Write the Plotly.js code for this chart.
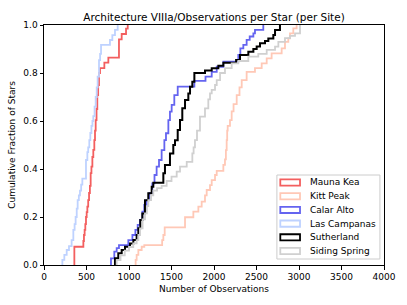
<!DOCTYPE html>
<html><head><meta charset="utf-8">
<script src="https://cdn.plot.ly/plotly-3.0.1.min.js"></script>
<style>html,body{margin:0;padding:0;background:#fff}#chart{width:407px;height:305px}</style>
</head><body><div id="chart"></div>
<script>
// Site names (legend order)
const siteNames = ["Mauna Kea", "Kitt Peak", "Calar Alto", "Las Campanas", "Sutherland", "Siding Spring"];
const siteColors = ["rgb(243,95,95)", "rgb(255,200,182)", "rgb(100,100,240)", "rgb(190,210,255)", "rgb(0,0,0)", "rgb(208,208,208)"];

// Step positions (number of observations) and cumulative fraction after each step
const maunaKeaX = [357, 463, 470, 478, 486, 494, 502, 510, 520, 530, 540, 549, 558, 569, 580, 592, 600, 608, 618, 627, 637, 647, 659, 710, 757, 882, 914, 965, 985];
const maunaKeaY = [0.076, 0.10, 0.125, 0.146, 0.17, 0.20, 0.22, 0.243, 0.27, 0.30, 0.33, 0.383, 0.41, 0.45, 0.48, 0.52, 0.56, 0.604, 0.65, 0.708, 0.75, 0.80, 0.82, 0.843, 0.864, 0.94, 0.9625, 0.985, 1.0];

const kittPeakX = [1078, 1090, 1110, 1149, 1180, 1390, 1404, 1420, 1659, 1757, 1816, 1855, 1894, 1914, 1953, 1973, 2012, 2032, 2110, 2129, 2140, 2149, 2155, 2161, 2188, 2208, 2230, 2267, 2300, 2326, 2384, 2482, 2561, 2620, 2678, 2796, 2835, 2874, 2894, 2933, 2972];
const kittPeakY = [0.021, 0.042, 0.0625, 0.076, 0.083, 0.104, 0.125, 0.157, 0.199, 0.222, 0.243, 0.264, 0.29, 0.3125, 0.333, 0.354, 0.375, 0.392, 0.417, 0.44, 0.479, 0.52, 0.56, 0.58, 0.604, 0.64, 0.67, 0.708, 0.74, 0.77, 0.805, 0.82, 0.84, 0.861, 0.882, 0.903, 0.93, 0.944, 0.965, 0.986, 1.0];

const calarAltoX = [788, 827, 855, 882, 992, 1040, 1075, 1102, 1129, 1157, 1180, 1208, 1240, 1274, 1300, 1325, 1353, 1384, 1416, 1435, 1463, 1482, 1502, 1533, 1573, 1769, 1900, 1973, 2032, 2110, 2286, 2310, 2345, 2384, 2420, 2463, 2482, 2580];
const calarAltoY = [0.028, 0.056, 0.07, 0.083, 0.104, 0.125, 0.146, 0.167, 0.1875, 0.222, 0.25, 0.27, 0.30, 0.34, 0.375, 0.41, 0.4375, 0.479, 0.52, 0.549, 0.604, 0.639, 0.667, 0.708, 0.743, 0.767, 0.785, 0.805, 0.826, 0.847, 0.875, 0.903, 0.917, 0.938, 0.952, 0.965, 0.98, 1.0];

const lasCampanasX = [216, 239, 267, 294, 325, 345, 360, 372, 385, 396, 410, 423, 437, 451, 494, 510, 520, 533, 545, 558, 570, 580, 595, 608, 620, 631, 647, 660, 671, 776, 804, 835, 867];
const lasCampanasY = [0.021, 0.042, 0.0625, 0.079, 0.104, 0.146, 0.17, 0.2, 0.235, 0.27, 0.29, 0.31, 0.335, 0.36, 0.4375, 0.47, 0.49, 0.52, 0.55, 0.58, 0.60, 0.62, 0.66, 0.70, 0.74, 0.785, 0.854, 0.88, 0.917, 0.9375, 0.958, 0.98, 1.0];

const sutherlandX = [835, 874, 914, 953, 1012, 1051, 1090, 1110, 1133, 1157, 1188, 1227, 1267, 1286, 1404, 1423, 1482, 1521, 1541, 1573, 1600, 1627, 1659, 1698, 1718, 1745, 1769, 1894, 1973, 2051, 2110, 2260, 2306, 2404, 2463, 2502, 2541, 2600, 2639, 2698, 2718, 2776];
const sutherlandY = [0.028, 0.049, 0.0625, 0.076, 0.09, 0.104, 0.125, 0.153, 0.1875, 0.215, 0.27, 0.299, 0.326, 0.343, 0.382, 0.417, 0.465, 0.5, 0.52, 0.5625, 0.604, 0.653, 0.6875, 0.715, 0.743, 0.764, 0.80, 0.81, 0.82, 0.83, 0.843, 0.854, 0.875, 0.889, 0.90, 0.91, 0.924, 0.933, 0.944, 0.958, 0.979, 1.0];

const sidingSpringX = [855, 900, 950, 1000, 1050, 1090, 1110, 1130, 1160, 1188, 1210, 1227, 1260, 1286, 1330, 1384, 1443, 1500, 1561, 1600, 1679, 1745, 1760, 1776, 1800, 1835, 1894, 1933, 1953, 1973, 2012, 2032, 2071, 2129, 2208, 2286, 2404, 2521, 2620, 2718, 2757, 2835, 2894, 2953, 3012];
const sidingSpringY = [0.02, 0.04, 0.06, 0.075, 0.09, 0.104, 0.125, 0.153, 0.19, 0.215, 0.245, 0.27, 0.29, 0.31, 0.32, 0.33, 0.35, 0.368, 0.389, 0.41, 0.43, 0.465, 0.49, 0.52, 0.56, 0.618, 0.653, 0.69, 0.715, 0.73, 0.75, 0.77, 0.80, 0.82, 0.84, 0.85, 0.868, 0.88, 0.896, 0.91, 0.93, 0.945, 0.955, 0.965, 1.0];

const seriesX = [maunaKeaX, kittPeakX, calarAltoX, lasCampanasX, sutherlandX, sidingSpringX];
const seriesY = [maunaKeaY, kittPeakY, calarAltoY, lasCampanasY, sutherlandY, sidingSpringY];

const xTickVals = [0, 500, 1000, 1500, 2000, 2500, 3000, 3500, 4000];
const yTickVals = [0.0, 0.2, 0.4, 0.6, 0.8, 1.0];

const FONT = "DejaVu Sans, sans-serif";

const traces = siteNames.map((name, i) => ({
  type: "scatter",
  mode: "lines",
  name: name,
  x: [seriesX[i][0]].concat(seriesX[i]),
  y: [0].concat(seriesY[i]),
  line: {shape: "hv", color: siteColors[i], width: i === 4 ? 2 : 1.8},
  showlegend: false,
  hoverinfo: "skip",
  cliponaxis: true
}));

// Hand-built legend (matplotlib-style outlined patches)
const shapes = [{
  type: "rect", xref: "paper", yref: "paper", layer: "above",
  x0: 0.685, x1: 0.988, y0: 0.025, y1: 0.375,
  line: {color: "rgb(204,204,204)", width: 1}, fillcolor: "rgba(255,255,255,0.85)"
}];
const annotations = [];
siteNames.forEach((name, i) => {
  const yc = 0.344 - i * 0.0572;
  shapes.push({
    type: "rect", xref: "paper", yref: "paper", layer: "above",
    x0: 0.695, x1: 0.753, y0: yc - 0.013, y1: yc + 0.013,
    line: {color: siteColors[i], width: 1.8}, fillcolor: "rgba(0,0,0,0)"
  });
  annotations.push({
    xref: "paper", yref: "paper", x: 0.776, y: yc, xanchor: "left", yanchor: "middle",
    text: name, showarrow: false, font: {family: FONT, size: 9, color: "#000"}
  });
});

const axisCommon = {
  showgrid: false, zeroline: false, showline: true, linecolor: "#000", linewidth: 1,
  mirror: true, ticks: "outside", ticklen: 3.5, tickwidth: 1, tickcolor: "#000",
  tickfont: {family: FONT, size: 9, color: "#000"}
};

const layout = {
  width: 407, height: 305,
  margin: {l: 44, r: 23, t: 25, b: 40, pad: 0},
  paper_bgcolor: "#fff", plot_bgcolor: "#fff",
  title: {text: "Architecture VIIIa/Observations per Star (per Site)", font: {family: FONT, size: 10.5, color: "#000"},
          xref: "paper", x: 0.5, xanchor: "center", yref: "container", y: 1 - 17 / 305, yanchor: "middle"},
  xaxis: Object.assign({}, axisCommon, {
    range: [0, 4000], tickvals: xTickVals, ticktext: xTickVals.map(String),
    title: {text: "Number of Observations", font: {family: FONT, size: 9, color: "#000"}, standoff: 4}
  }),
  yaxis: Object.assign({}, axisCommon, {
    range: [0, 1], tickvals: yTickVals, ticktext: yTickVals.map(v => v.toFixed(1)),
    title: {text: "Cumulative Fraction of Stars", font: {family: FONT, size: 9, color: "#000"}, standoff: 6}
  }),
  shapes: shapes,
  annotations: annotations,
  showlegend: false
};

Plotly.newPlot("chart", traces, layout, {staticPlot: true, displayModeBar: false});
</script>
</body></html>
